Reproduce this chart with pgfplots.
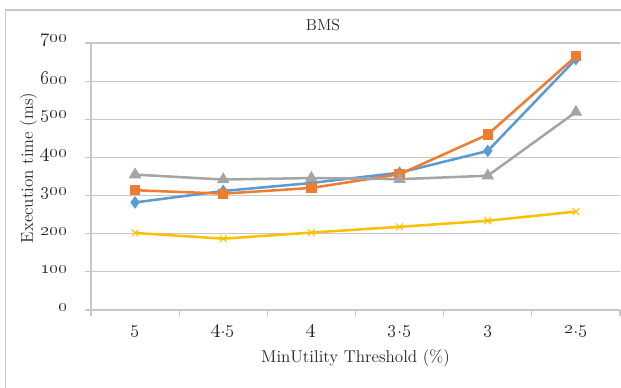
\documentclass[border=0pt]{standalone}
\usepackage{pgfplots}
\pgfplotsset{compat=1.18}
\definecolor{cblue}{HTML}{5B9BD5}
\definecolor{corange}{HTML}{ED7D31}
\definecolor{cgray}{HTML}{A5A5A5}
\definecolor{cyellow}{HTML}{FFC000}
\definecolor{gridc}{HTML}{C8C8C8}
\definecolor{txt}{HTML}{262626}
\newcommand{\osn}[1]{\oldstylenums{#1}}
\begin{document}
\begin{tikzpicture}
\useasboundingbox (0,0) rectangle (465.75pt,291pt);
\draw[gridc,line width=0.8pt] (4.1pt,0) -- (4.1pt,283.5pt) -- (465.75pt,283.5pt);
\node[font=\fontsize{12}{14}\selectfont, text=txt] at (242.25pt,272.25pt) {BMS};
\begin{axis}[
  at={(68.25pt,58.5pt)}, anchor=south west,
  scale only axis, width=396.75pt, height=200.25pt,
  xmin=0.5, xmax=6.5, ymin=0, ymax=700,
  axis lines*=left,
  axis line style={gridc, line width=0.8pt, -},
  xtick={1,2,3,4,5,6},
  xticklabels={\osn{5},\osn{4}.\osn{5},\osn{4},\osn{3}.\osn{5},\osn{3},\osn{2}.\osn{5}},
  major x tick style={draw=none},
  minor xtick={0.5,1.5,2.5,3.5,4.5,5.5,6.5},
  minor x tick style={gridc, line width=0.8pt},
  minor tick length=4.5pt,
  ytick={0,100,...,700},
  yticklabels={\osn{0},\osn{100},\osn{200},\osn{300},\osn{400},\osn{500},\osn{600},\osn{700}},
  major y tick style={gridc, line width=0.8pt},
  major tick length=4.5pt,
  tick align=outside,
  ymajorgrids, major grid style={gridc, line width=0.8pt},
  tick label style={font=\fontsize{14}{16}\selectfont, text=txt},
  xticklabel style={yshift=-3pt},
  yticklabel style={xshift=-9.5pt, yshift=2pt},
  xlabel={MinUtility Threshold (\%)},
  ylabel={Execution time (ms)},
  label style={font=\fontsize{12.8}{15}\selectfont, text=txt},
  xlabel style={at={(axis description cs:0.5,-0.18)}, anchor=center},
  ylabel style={at={(axis description cs:-0.118,0.532)}, anchor=center},
  clip=false,
  every axis plot/.append style={line width=1.9pt, mark options={solid}},
]
\addplot[cblue, mark=diamond*, mark size=3.2pt] coordinates {(1,282) (2,312) (3,333) (4,360) (5,417) (6,658)};
\addplot[corange, mark=square*, mark size=2.9pt] coordinates {(1,314) (2,305) (3,320) (4,356) (5,460) (6,665)};
\addplot[cgray, mark=triangle*, mark size=3.6pt] coordinates {(1,355) (2,342) (3,346) (4,343) (5,352) (6,519)};
\addplot[cyellow, mark=x, mark size=3.6pt, mark options={line width=0.8pt}] coordinates {(1,202) (2,187) (3,203) (4,218) (5,234) (6,258)};
\end{axis}
\end{tikzpicture}
\end{document}
